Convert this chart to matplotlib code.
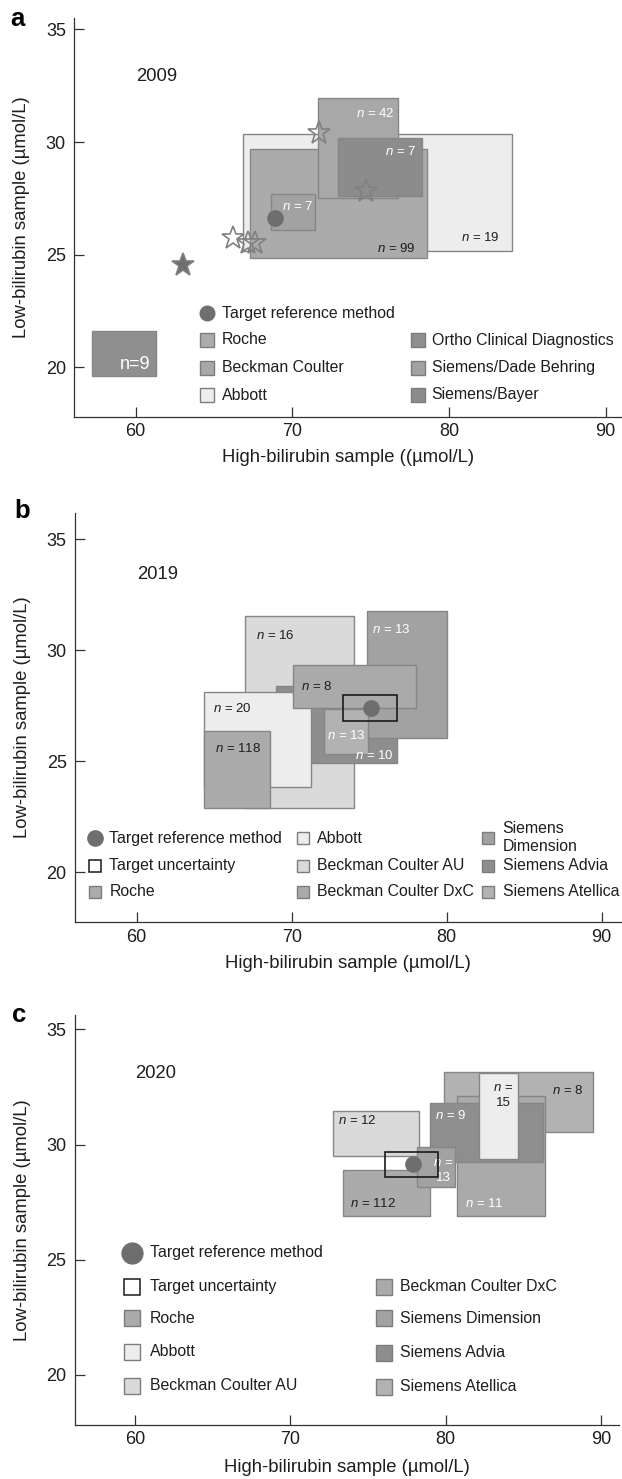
import matplotlib
matplotlib.use("Agg")
import matplotlib.pyplot as plt
from matplotlib.patches import Rectangle
from matplotlib.transforms import Affine2D

plt.rcParams["font.family"] = ["Liberation Sans", "DejaVu Sans"]
plt.rcParams["mathtext.fontset"] = "custom"
plt.rcParams["mathtext.it"] = "Liberation Sans:italic"
plt.rcParams["mathtext.rm"] = "Liberation Sans"

INK = "#1e1e1e"
EDGE = "#868686"
DOT = "#6e6e6e"

# ---------------- panel a: 2009 ----------------
a_makers = ["Roche", "Beckman Coulter", "Abbott",
            "Ortho Clinical Diagnostics", "Siemens/Dade Behring", "Siemens/Bayer"]
a_box_maker = ["Abbott", "Roche", "Beckman Coulter", "Siemens/Bayer",
               "Siemens/Dade Behring", "Ortho Clinical Diagnostics"]
a_x_lo = [66.83, 67.29, 71.65, 72.93, 68.62, 57.22]
a_x_hi = [84.00, 78.57, 76.76, 78.27, 71.46, 61.30]
a_y_lo = [25.18, 24.84, 27.50, 27.62, 26.09, 19.61]
a_y_hi = [30.36, 29.68, 31.94, 30.19, 27.68, 21.61]
a_n = [19, 99, 42, 7, 7, 9]
a_target = (68.91, 26.61)
a_star_x = [63.0, 66.23, 67.19, 67.61, 71.70, 74.68]
a_star_y = [24.55, 25.73, 25.50, 25.50, 30.39, 27.83]

# ---------------- panel b: 2019 ----------------
bc_makers = ["Roche", "Abbott", "Beckman Coulter AU", "Beckman Coulter DxC",
             "Siemens Dimension", "Siemens Advia", "Siemens Atellica"]
b_box_maker = ["Beckman Coulter AU", "Siemens Advia", "Abbott", "Roche",
               "Siemens Dimension", "Siemens Atellica", "Beckman Coulter DxC"]
b_x_lo = [66.97, 69.02, 64.33, 64.33, 74.85, 72.07, 70.07]
b_x_hi = [74.03, 76.77, 71.27, 68.58, 80.05, 74.93, 78.00]
b_y_lo = [22.88, 24.91, 23.83, 22.88, 26.04, 25.33, 27.40]
b_y_hi = [31.55, 28.39, 28.11, 26.36, 31.78, 27.36, 29.32]
b_n = [16, 10, 20, 118, 13, 13, 8]
b_target = (75.13, 27.40)
b_uncert = (73.34, 76.77, 26.83, 27.99)

# ---------------- panel c: 2020 ----------------
c_box_maker = ["Siemens Atellica", "Beckman Coulter DxC", "Siemens Advia",
               "Beckman Coulter AU", "Roche", "Siemens Dimension", "Abbott"]
c_x_lo = [79.91, 80.73, 79.02, 72.74, 73.40, 78.13, 82.16]
c_x_hi = [89.46, 86.40, 86.30, 78.30, 78.97, 80.60, 84.66]
c_y_lo = [30.56, 26.90, 29.25, 29.50, 26.90, 28.14, 29.37]
c_y_hi = [33.13, 32.12, 31.81, 31.47, 28.89, 29.88, 33.09]
c_n = [8, 11, 9, 12, 112, 13, 15]
c_target = (77.87, 29.16)
c_uncert = (76.13, 79.48, 28.58, 29.66)

# grey fill per manufacturer
fills = {
    "Roche": "#ababab", "Beckman Coulter": "#a8a8a8", "Abbott": "#ededed",
    "Ortho Clinical Diagnostics": "#8f8f8f", "Siemens/Dade Behring": "#a2a2a2",
    "Siemens/Bayer": "#8c8c8c",
    "Beckman Coulter AU": "#dadada", "Beckman Coulter DxC": "#aaaaaa",
    "Siemens Dimension": "#a2a2a2", "Siemens Advia": "#8e8e8e",
    "Siemens Atellica": "#b2b2b2",
}

# n-label anchors (x, y, ha, colour)
a_lab = [(83.25, 25.77, "right", INK), (77.89, 25.28, "right", INK),
         (76.55, 31.27, "right", "white"), (77.89, 29.57, "right", "white"),
         (71.30, 27.16, "right", "white"), (60.95, 20.12, "right", "white")]
b_lab = [(67.70, 30.66, "left", INK), (74.08, 25.28, "left", "white"),
         (64.90, 27.37, "left", INK), (65.07, 25.57, "left", INK),
         (75.18, 30.96, "left", "white"), (72.26, 26.17, "left", "white"),
         (70.60, 28.39, "left", INK)]
c_lab = [(88.85, 32.36, "right", INK), (81.24, 27.42, "left", "white"),
         (79.31, 31.28, "left", "white"), (73.09, 31.06, "left", INK),
         (73.84, 27.42, "left", INK), (79.86, 28.86, "center", "white"),
         (83.72, 32.11, "center", INK)]

W, H = 622, 1479
fig = plt.figure(figsize=(W / 100, H / 100), dpi=100)
PX = Affine2D().scale(1 / W, -1 / H).translate(0, 1) + fig.transFigure


def make_axes(left, right, top, bottom, xlim, ylim):
    ax = fig.add_axes([left / W, 1 - bottom / H, (right - left) / W, (bottom - top) / H])
    ax.set_xlim(*xlim)
    ax.set_ylim(*ylim)
    for side in ("top", "right"):
        ax.spines[side].set_visible(False)
    for side in ("left", "bottom"):
        ax.spines[side].set_color("#333333")
        ax.spines[side].set_linewidth(0.9)
    ax.set_xticks([60, 70, 80, 90])
    ax.set_yticks([20, 25, 30, 35])
    ax.tick_params(direction="in", length=7.5, width=0.9, color="#333333",
                   labelsize=13, labelcolor=INK)
    ax.tick_params(axis="y", pad=6)
    ax.tick_params(axis="x", pad=4.5)
    ax.set_ylabel("Low-bilirubin sample (\u00b5mol/L)", fontsize=13.3, color=INK)
    ax.yaxis.set_label_coords(-0.081, 0.5)
    return ax


def draw_boxes(ax, makers, x_lo, x_hi, y_lo, y_hi, ns, labs, big_last=False):
    for i, (m, x0, x1, y0, y1) in enumerate(zip(makers, x_lo, x_hi, y_lo, y_hi)):
        ax.add_patch(Rectangle((x0, y0), x1 - x0, y1 - y0, facecolor=fills[m],
                               edgecolor=EDGE, lw=1.0))
    for i, (n, (x, y, ha, col)) in enumerate(zip(ns, labs)):
        if big_last and i == len(ns) - 1:
            ax.text(x, y, f"n={n}", ha=ha, va="center", color=col, fontsize=13)
        elif ha == "center":
            ax.text(x, y, f"$n$ =\n{n}", ha="center", va="center", color=col,
                    fontsize=9.5, linespacing=1.35)
        else:
            ax.text(x, y, f"$n$ = {n}", ha=ha, va="center", color=col, fontsize=9.5)


def draw_key(ax, cols, sq=9.8, dot=10.5):
    for mx, tx, rows, labels in cols:
        for y, lab in zip(rows, labels):
            if lab == "Target reference method":
                ax.plot([mx], [y], "o", ms=dot, color=DOT, mec=DOT, transform=PX, clip_on=False)
            elif lab == "Target uncertainty":
                ax.plot([mx], [y], "s", ms=sq, mfc="white", mec="#1a1a1a", mew=1.1,
                        transform=PX, clip_on=False)
            else:
                ax.plot([mx], [y], "s", ms=sq, mfc=fills[lab.replace("\n", " ")],
                        mec="#7c7c7c", mew=1.0, transform=PX, clip_on=False)
            ax.text(tx, y, lab, transform=PX, ha="left", va="center", fontsize=11.4,
                    color=INK, linespacing=1.3)


# ---- panel a ----
ax = make_axes(74.3, 621, 18.3, 416.7, (56.08, 90.98), (17.81, 35.49))
draw_boxes(ax, a_box_maker, a_x_lo, a_x_hi, a_y_lo, a_y_hi, a_n, a_lab, big_last=True)
ax.plot(*a_target, "o", ms=11, color=DOT, zorder=4)
star_face = [DOT, "white", "none", "none", "none", "none"]
for sx, sy, fc in zip(a_star_x, a_star_y, star_face):
    ax.plot(sx, sy, "*", ms=17, mfc=fc, mec="#808080", mew=1.2, zorder=5)
ax.text(60, 32.71, "2009", fontsize=13.3, color=INK, va="baseline")
ax.set_xlabel("High-bilirubin sample ((\u00b5mol/L)", fontsize=13.3, color=INK)
ax.xaxis.set_label_coords(0.5, -0.080)
draw_key(ax, [
    (207, 222, [313.3, 340, 367.7, 395],
     ["Target reference method", "Roche", "Beckman Coulter", "Abbott"]),
    (418, 431.6, [340, 367.7, 395], a_makers[3:]),
])

# ---- panel b ----
ax = make_axes(75, 621, 512.7, 922.3, (56.02, 91.25), (17.75, 36.2))
draw_boxes(ax, b_box_maker, b_x_lo, b_x_hi, b_y_lo, b_y_hi, b_n, b_lab)
x0, x1, y0, y1 = b_uncert
ax.add_patch(Rectangle((x0, y0), x1 - x0, y1 - y0, fill=False, edgecolor="#1a1a1a", lw=1.2, zorder=3))
ax.plot(*b_target, "o", ms=11, color=DOT, zorder=4)
ax.text(60, 33.2, "2019", fontsize=13.3, color=INK, va="baseline")
ax.set_xlabel("High-bilirubin sample (\u00b5mol/L)", fontsize=13.3, color=INK)
ax.xaxis.set_label_coords(0.5, -0.079)
draw_key(ax, [
    (95, 109.3, [838.3, 865.7, 891.7], ["Target reference method", "Target uncertainty", "Roche"]),
    (303, 317.3, [838.3, 865.7, 891.7], bc_makers[1:4]),
    (488.3, 502.7, [837.5, 865.7, 891.7], ["Siemens\nDimension", "Siemens Advia", "Siemens Atellica"]),
], sq=9.2, dot=11)

# ---- panel c ----
ax = make_axes(74.6, 619, 1015, 1425, (56.12, 91.16), (17.83, 35.62))
draw_boxes(ax, c_box_maker, c_x_lo, c_x_hi, c_y_lo, c_y_hi, c_n, c_lab)
x0, x1, y0, y1 = c_uncert
ax.add_patch(Rectangle((x0, y0), x1 - x0, y1 - y0, fill=False, edgecolor="#1a1a1a", lw=1.2, zorder=3))
ax.plot(*c_target, "o", ms=11, color=DOT, zorder=4)
ax.text(60, 32.87, "2020", fontsize=13.3, color=INK, va="baseline")
ax.set_xlabel("High-bilirubin sample (\u00b5mol/L)", fontsize=13.3, color=INK)
ax.xaxis.set_label_coords(0.5, -0.084)
draw_key(ax, [
    (132, 150, [1253, 1286.7, 1318.3, 1351.7, 1386],
     ["Target reference method", "Target uncertainty", "Roche", "Abbott", "Beckman Coulter AU"]),
    (384, 399.8, [1286.7, 1318.3, 1352.7, 1386.7], bc_makers[3:]),
], sq=12, dot=15)

for letter, x, y in [("a", 10, 26), ("b", 14, 518.3), ("c", 12, 1021.7)]:
    fig.text(x, y, letter, transform=PX, fontsize=18.5, fontweight="bold", va="baseline")

fig.savefig("out.png", dpi=100)
